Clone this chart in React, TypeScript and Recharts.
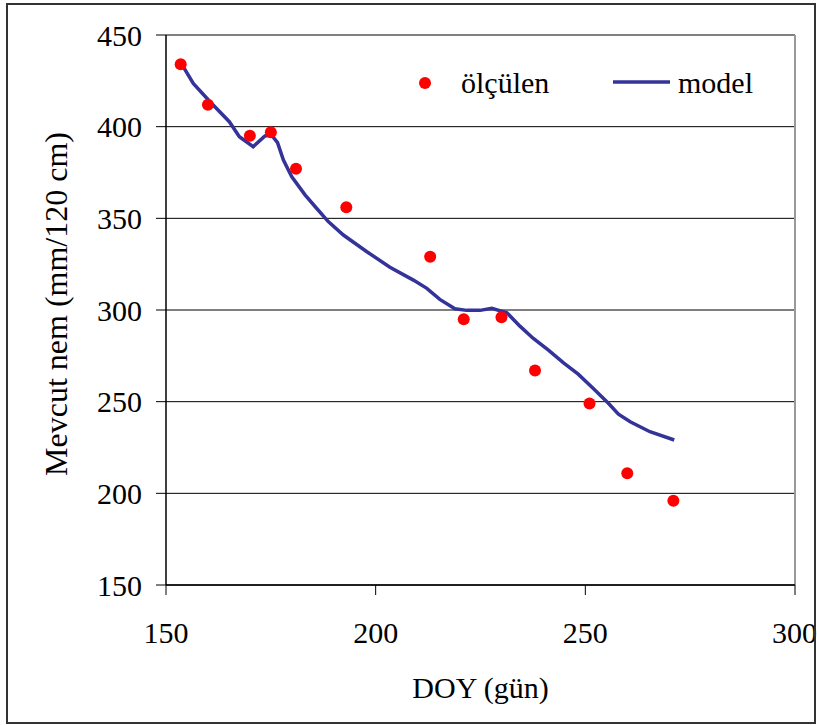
import React from "react";
import {
  ComposedChart,
  Line,
  Scatter,
  XAxis,
  YAxis,
  CartesianGrid,
  ReferenceLine,
  Legend,
} from "recharts";

const FONT = "Times New Roman, Liberation Serif, DejaVu Serif, serif";

// Measured (ölçülen) values: day of year and available moisture
const measuredDoy = [153.5, 160, 170, 175, 181, 193, 213, 221, 230, 238, 251, 260, 271];
const measuredMoisture = [434, 412, 395, 397, 377, 356, 329, 295, 296, 267, 249, 211, 196];

// Model values
const modelDoy = [
  154.1, 156.5, 160.5, 165.1, 167.5, 170.8, 173.6, 175.2, 176.6, 178.0, 180.0, 183.2,
  185.9, 188.7, 192.3, 197.9, 203.4, 209.0, 212.2, 215.3, 218.9, 221.7, 224.9, 227.7,
  231.3, 234.4, 237.6, 241.2, 244.8, 248.3, 251.9, 255.5, 257.9, 260.7, 265.4, 271.2,
];
const modelMoisture = [
  432.7, 423.6, 413.6, 402.7, 394.5, 389.1, 394.9, 395.4, 391.3, 381.8, 372.7, 362.7,
  355.5, 348.2, 340.9, 331.8, 323.3, 316.3, 311.8, 305.8, 300.7, 299.8, 299.8, 300.9,
  298.5, 291.2, 284.5, 278.1, 271.2, 265.0, 257.2, 249.1, 243.2, 239.0, 233.6, 229.1,
];

const xTicks = [150, 200, 250, 300];
const yTicks = [150, 200, 250, 300, 350, 400, 450];

const measuredData = measuredDoy.map((x, i) => ({ x, y: measuredMoisture[i] }));
const modelData = modelDoy.map((x, i) => ({ x, y: modelMoisture[i] }));

const RED = "#FF0000";
const NAVY = "#333399";

const Dot = (props: any) => {
  const { cx, cy } = props;
  if (cx == null || cy == null) return null;
  return <circle cx={cx} cy={cy} r={6} fill={RED} />;
};

const textStyle = { fontFamily: FONT };

const LegendContent = () => (
  <svg width={370} height={45} style={{ display: "block" }}>
    <circle cx={25} cy={23} r={6} fill={RED} />
    <text x={61} y={33} style={textStyle} fontSize={30} fill="#000">
      ölçülen
    </text>
    <line x1={213} x2={270} y1={22} y2={22} stroke={NAVY} strokeWidth={3.5} />
    <text x={278} y={33} style={textStyle} fontSize={30} fill="#000">
      model
    </text>
  </svg>
);

const YLabel = (props: any) => {
  const vb = props.viewBox || {};
  const cx = (vb.x || 0) + 56;
  const cy = (vb.y || 0) + (vb.height || 0) / 2 - 6;
  return (
    <text
      x={cx}
      y={cy}
      transform={`rotate(-90 ${cx} ${cy})`}
      textAnchor="middle"
      dominantBaseline="central"
      style={textStyle}
      fontSize={32}
      fill="#000"
    >
      Mevcut nem (mm/120 cm)
    </text>
  );
};

const XLabel = (props: any) => {
  const vb = props.viewBox || {};
  const cx = (vb.x || 0) + (vb.width || 0) / 2;
  const y = (vb.y || 0) + 113;
  return (
    <text x={cx} y={y} textAnchor="middle" style={textStyle} fontSize={30} fill="#000">
      DOY (gün)
    </text>
  );
};

export default function App() {
  return (
    <div
      style={{
        position: "absolute",
        left: 0,
        top: 0,
        width: 817,
        height: 725,
        background: "#fff",
        fontFamily: FONT,
      }}
    >
      <ComposedChart
        width={817}
        height={725}
        margin={{ top: 35, right: 22, bottom: 40, left: 0 }}
        style={{ fontFamily: FONT }}
      >
        <CartesianGrid vertical={false} stroke="#000" strokeWidth={1} />
        <XAxis
          type="number"
          dataKey="x"
          domain={[150, 300]}
          ticks={xTicks}
          allowDataOverflow
          height={100}
          tickSize={10}
          tickMargin={27}
          stroke="#000"
          axisLine={{ stroke: "#000", strokeWidth: 1.5 }}
          tickLine={{ stroke: "#000" }}
          tick={{ fontFamily: FONT, style: textStyle, fontSize: 30, fill: "#000" }}
          label={<XLabel />}
        />
        <YAxis
          type="number"
          dataKey="y"
          domain={[150, 450]}
          ticks={yTicks}
          allowDataOverflow
          width={166}
          tickSize={10}
          tickMargin={14}
          stroke="#000"
          axisLine={{ stroke: "#000", strokeWidth: 1.5 }}
          tickLine={{ stroke: "#000" }}
          tick={{ fontFamily: FONT, style: textStyle, fontSize: 30, fill: "#000" }}
          label={<YLabel />}
        />
        <ReferenceLine y={450} stroke="#808080" strokeWidth={2} />
        <ReferenceLine x={300} stroke="#999999" strokeWidth={2} />
        <Legend
          layout="horizontal"
          verticalAlign="middle"
          align="center"
          content={<LegendContent />}
          wrapperStyle={{ position: "absolute", left: 400, top: 60, width: 370, height: 45 }}
        />
        <Line
          data={modelData}
          dataKey="y"
          type="linear"
          stroke={NAVY}
          strokeWidth={3.5}
          dot={false}
          isAnimationActive={false}
          legendType="line"
          name="model"
        />
        <Scatter
          data={measuredData}
          dataKey="y"
          fill={RED}
          shape={<Dot />}
          isAnimationActive={false}
          name="ölçülen"
        />
      </ComposedChart>
      <div
        style={{
          position: "absolute",
          left: 6,
          top: 3,
          width: 810,
          height: 721,
          border: "2px solid #333",
          boxSizing: "border-box",
          pointerEvents: "none",
        }}
      />
    </div>
  );
}
